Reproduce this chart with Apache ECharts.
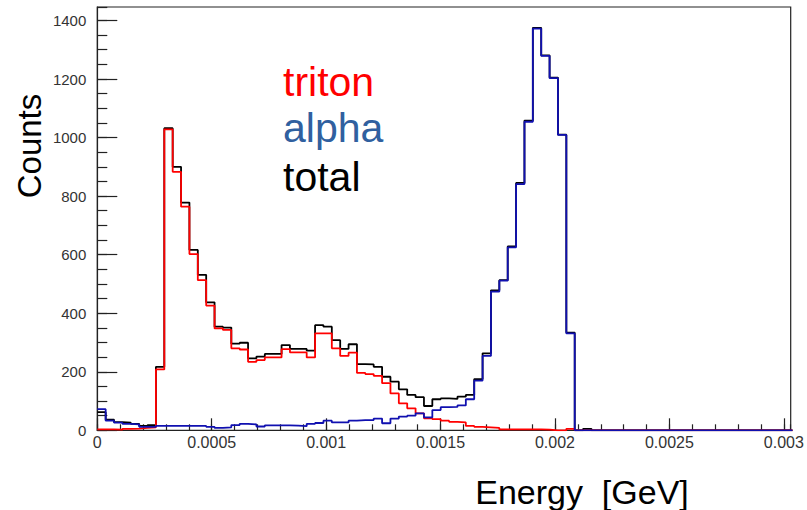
<!DOCTYPE html>
<html><head><meta charset="utf-8">
<script src="https://cdn.jsdelivr.net/npm/echarts@6/dist/echarts.min.js"></script>
<style>html,body{margin:0;padding:0;background:#fff}#c{width:807px;height:510px}</style>
</head><body><div id="c"></div>
<script>
// bin width (GeV); bins start at 0
const binWidth = 0.0000366;
const triton = [3,3,2,5,6,8,10,
  208,1028,883,764,602,513,426,348,343,280,
  276,234,240,249,249,277,266,266,249,331,
  331,280,254,265,196,192,186,161,126,92,
  75,58,41,38,33,29,27,15,12,10,
  8,3,3,3,3,3,2,0,0,5,
  0,0,0,0,0,0,0,0,0,0,0,0,0,0,0,0,0,0,0,0,0,0,0,0,0,0];
const alpha = [72,33,26,22,20,12,12,
  15,15,15,15,15,15,12,8,10,18,
  22,20,13,17,17,17,16,14,22,25,
  33,27,27,33,35,35,40,24,40,47,
  50,58,44,69,79,80,85,106,170,254,
  474,511,625,841,1054,1372,1279,1203,1009,331,
  0,0,0,0,0,0,0,0,0,0,0,0,0,0,0,0,0,0,0,0,0,0,0,0,0,0];
const total = [62,36,28,26,22,15,18,
  217,1032,900,778,616,531,437,354,351,296,
  299,246,252,261,261,291,278,278,272,359,
  354,308,278,294,226,225,217,183,166,140,
  121,113,83,106,109,107,115,121,175,263,
  478,513,628,845,1058,1375,1281,1205,1010,334,
  0,5,0,0,0,0,0,0,0,0,0,0,0,0,0,0,0,0,0,0,0,0,0,0,0,0];
const xTickLabels = ['0','0.0005','0.001','0.0015','0.002','0.0025','0.003'];
const yTickLabels = ['0','200','400','600','800','1000','1200','1400'];
const xMin = 0, xMax = 0.00303, xMajor = 0.0005, xMinor = 0.0001;
const yMin = 0, yMax = 1446, yMajor = 200, yMinor = 50;

function steps(vals){
  const d = [];
  for (let i = 0; i < vals.length; i++) d.push([i*binWidth, vals[i]]);
  d.push([vals.length*binWidth, vals[vals.length-1]]);
  return d;
}
function xLab(v){
  const k = v / xMajor, r = Math.round(k);
  if (Math.abs(k - r) > 1e-6) return '';
  return xTickLabels[r] !== undefined ? xTickLabels[r] : '';
}
function yLab(v){
  const k = v / yMajor, r = Math.round(k);
  if (Math.abs(k - r) > 1e-6) return '';
  return yTickLabels[r] !== undefined ? yTickLabels[r] : '';
}
const FONT = '"Liberation Sans", Arial, sans-serif';
const chart = echarts.init(document.getElementById('c'), null, {renderer:'svg'});
chart.setOption({
  backgroundColor:'#fff',
  animation:false,
  grid:{left:97.3, right:16.3, top:7, bottom:79.7, show:true, borderColor:'#222', borderWidth:1.2, backgroundColor:'#fff'},
  xAxis:[
    {type:'value', min:xMin, max:xMax, interval:xMajor, position:'bottom',
     axisLine:{show:true, onZero:false, lineStyle:{color:'#222', width:1.2}},
     axisTick:{show:true, inside:true, length:12, lineStyle:{color:'#222', width:1.2}},
     axisLabel:{formatter:xLab, margin:4, color:'#333', fontSize:16, fontFamily:FONT, showMaxLabel:false},
     splitLine:{show:false}},
    {type:'value', min:xMin, max:xMax, interval:xMinor, position:'bottom',
     axisLine:{show:false, onZero:false},
     axisTick:{show:true, inside:true, length:6, lineStyle:{color:'#222', width:1.2}},
     axisLabel:{show:false}, splitLine:{show:false}}
  ],
  yAxis:[
    {type:'value', min:yMin, max:yMax, interval:yMajor, position:'left',
     axisLine:{show:true, onZero:false, lineStyle:{color:'#222', width:1.2}},
     axisTick:{show:true, inside:true, length:20, lineStyle:{color:'#222', width:1.2}},
     axisLabel:{formatter:yLab, margin:11, color:'#333', fontSize:15, fontFamily:FONT, showMaxLabel:false},
     splitLine:{show:false}},
    {type:'value', min:yMin, max:yMax, interval:yMinor, position:'left',
     axisLine:{show:false, onZero:false},
     axisTick:{show:true, inside:true, length:10, lineStyle:{color:'#222', width:1.2}},
     axisLabel:{show:false}, splitLine:{show:false}}
  ],
  series:[
    {name:'total', type:'line', step:'end', data:steps(total), showSymbol:false, symbol:'none',
     lineStyle:{color:'#000', width:1.8}, xAxisIndex:0, yAxisIndex:0, z:2},
    {name:'triton', type:'line', step:'end', data:steps(triton), showSymbol:false, symbol:'none',
     lineStyle:{color:'#ff0000', width:1.8}, xAxisIndex:0, yAxisIndex:0, z:3},
    {name:'alpha', type:'line', step:'end', data:steps(alpha), showSymbol:false, symbol:'none',
     lineStyle:{color:'#1010b0', width:1.8}, xAxisIndex:0, yAxisIndex:0, z:4}
  ],
  graphic:[
    {type:'text', x:29, y:146, rotation:Math.PI/2, style:{text:'Counts', font:'33px '+FONT, fill:'#000', align:'center', verticalAlign:'middle'}},
    {type:'text', x:582, y:492, style:{text:'Energy  [GeV]', font:'34px '+FONT, fill:'#000', align:'center', verticalAlign:'middle'}},
    {type:'text', x:283, y:82, style:{text:'triton', font:'41px '+FONT, fill:'#ff0000', align:'left', verticalAlign:'middle'}},
    {type:'text', x:283, y:128, style:{text:'alpha', font:'41px '+FONT, fill:'#30609f', align:'left', verticalAlign:'middle'}},
    {type:'text', x:283, y:177, style:{text:'total', font:'41px '+FONT, fill:'#000', align:'left', verticalAlign:'middle'}}
  ]
});
</script></body></html>
